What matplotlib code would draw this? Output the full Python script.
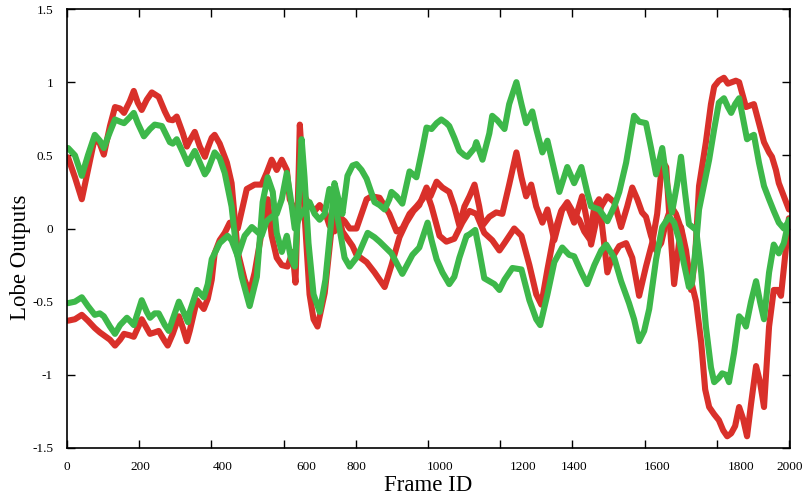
import matplotlib
matplotlib.use("Agg")
import matplotlib.pyplot as plt

plt.rcParams['font.family'] = ['Liberation Serif', 'DejaVu Serif']

# ---- data (frame, value) ----
r1_x = [3,22,41,58,77,91,102,119,133,147,158,174,185,196,207,221,235,254,271,282,293,304,321,332,340,354,368,382,390,401,409,423,443,456,473,492,506,520,534,548,556,567,581,595,611,625,633,642,645,653,658,672,683,694,714,733,750,763,777,791,802,830,852,866,880,899,921,940,960,976,996,1007,1024,1040,1059,1073,1087,1101,1115,1129,1142,1151,1170,1189,1206,1225,1245,1259,1272,1286,1300,1317,1331,1350,1372,1386,1405,1427,1441,1452,1466,1480,1497,1516,1535,1552,1566,1580,1593,1604,1618,1632,1646,1660,1674,1687,1701,1715,1731,1743,1757,1768,1779,1793,1806,1818,1829,1840,1851,1862,1873,1884,1895,1909,1920,1931,1945,1958,1970,1978,1989,2000]
r1_y = [0.485,0.35,0.20,0.40,0.62,0.58,0.505,0.70,0.83,0.82,0.79,0.87,0.94,0.86,0.81,0.88,0.93,0.90,0.80,0.745,0.74,0.765,0.65,0.56,0.60,0.66,0.56,0.49,0.55,0.62,0.64,0.58,0.45,0.31,-0.16,-0.35,-0.44,-0.30,-0.10,0.10,0.20,-0.05,-0.20,-0.25,-0.26,-0.16,-0.37,0.40,0.71,0.40,0.10,-0.45,-0.62,-0.67,-0.44,0.00,0.11,-0.02,-0.07,-0.12,-0.18,-0.23,-0.30,-0.35,-0.40,-0.25,-0.06,0.04,0.12,0.16,0.28,0.22,0.32,0.28,0.25,0.15,0.02,0.15,0.22,0.30,0.15,0.02,0.08,0.11,0.10,0.30,0.52,0.35,0.22,0.30,0.15,0.04,0.13,-0.08,0.13,0.16,0.04,0.22,0.05,-0.11,0.05,0.15,0.22,0.18,0.01,0.15,0.28,0.20,0.11,0.08,-0.05,-0.15,-0.10,0.05,0.15,0.10,0.00,-0.20,-0.38,-0.50,-0.78,-1.10,-1.22,-1.27,-1.31,-1.38,-1.42,-1.40,-1.35,-1.22,-1.30,-1.42,-1.20,-0.94,-1.05,-1.22,-0.67,-0.42,-0.42,-0.46,-0.20,0.07]

r2_x = [3,22,41,58,77,91,119,133,147,158,174,185,207,221,230,243,254,271,279,293,310,321,332,340,360,379,390,401,409,423,437,451,465,473,484,498,520,539,553,567,581,595,609,617,631,645,658,672,686,700,714,727,741,755,769,783,802,816,830,844,866,893,913,929,949,968,985,996,1010,1032,1051,1073,1095,1115,1134,1156,1178,1198,1212,1239,1259,1281,1300,1314,1331,1350,1369,1386,1405,1419,1433,1447,1461,1474,1488,1497,1510,1530,1549,1566,1585,1604,1621,1635,1649,1660,1671,1682,1693,1701,1715,1729,1740,1751,1770,1784,1793,1806,1820,1831,1842,1853,1862,1873,1881,1892,1903,1917,1931,1945,1953,1964,1972,1986,2000]
r2_y = [-0.63,-0.62,-0.59,-0.63,-0.68,-0.71,-0.76,-0.80,-0.76,-0.72,-0.73,-0.74,-0.62,-0.68,-0.72,-0.71,-0.70,-0.77,-0.80,-0.72,-0.60,-0.68,-0.77,-0.70,-0.49,-0.55,-0.48,-0.35,-0.17,-0.08,-0.03,0.04,0.02,0.00,0.12,0.27,0.30,0.30,0.38,0.47,0.40,0.47,0.40,0.20,0.12,0.20,0.22,0.16,0.12,0.16,0.12,0.02,-0.02,0.08,0.05,0.00,0.00,0.10,0.20,0.22,0.21,0.10,-0.02,0.00,0.10,0.15,0.20,0.25,0.15,-0.05,-0.09,-0.07,0.04,0.12,0.10,-0.03,-0.08,-0.15,-0.10,0.00,-0.05,-0.25,-0.45,-0.52,-0.28,-0.03,0.12,0.18,0.10,0.06,-0.02,-0.07,0.15,0.20,-0.10,-0.30,-0.20,-0.12,-0.10,-0.20,-0.46,-0.26,-0.10,0.10,0.46,0.42,0.00,-0.38,-0.15,0.01,-0.15,-0.42,-0.20,0.29,0.59,0.85,0.97,1.01,1.03,0.99,1.00,1.01,1.00,0.90,0.83,0.84,0.85,0.72,0.59,0.52,0.49,0.40,0.31,0.22,0.13]

g1_x = [3,22,41,58,77,91,102,119,133,147,158,174,185,196,213,230,243,263,271,285,293,304,321,335,340,354,368,382,390,401,409,423,437,456,470,484,506,526,542,556,570,581,595,609,620,631,642,650,658,669,683,700,716,730,741,752,763,777,791,802,816,830,844,852,866,880,893,899,913,929,949,968,985,996,1010,1024,1037,1051,1059,1073,1087,1101,1109,1129,1134,1151,1170,1178,1192,1212,1225,1245,1259,1272,1289,1300,1317,1331,1350,1364,1386,1405,1425,1441,1452,1474,1497,1516,1530,1549,1571,1585,1604,1618,1632,1649,1663,1676,1690,1701,1712,1723,1743,1757,1770,1784,1793,1806,1815,1826,1834,1848,1862,1873,1881,1895,1909,1920,1931,1945,1958,1972,1986,2000]
g1_y = [0.55,0.50,0.36,0.50,0.64,0.60,0.55,0.66,0.745,0.73,0.72,0.76,0.79,0.72,0.63,0.68,0.71,0.70,0.66,0.59,0.58,0.61,0.52,0.44,0.47,0.53,0.45,0.37,0.40,0.47,0.52,0.48,0.38,0.15,-0.16,-0.33,-0.53,-0.33,0.18,0.35,0.25,-0.03,-0.16,-0.05,-0.20,-0.26,0.20,0.61,0.35,-0.10,-0.45,-0.57,-0.35,0.00,0.31,0.20,0.10,0.36,0.43,0.44,0.40,0.34,0.24,0.18,0.16,0.13,0.20,0.25,0.22,0.17,0.39,0.35,0.55,0.69,0.68,0.72,0.745,0.72,0.70,0.62,0.53,0.50,0.49,0.55,0.59,0.47,0.65,0.77,0.74,0.68,0.85,1.00,0.85,0.72,0.80,0.68,0.52,0.60,0.40,0.25,0.42,0.31,0.42,0.25,0.15,0.13,0.05,0.15,0.25,0.45,0.77,0.73,0.72,0.55,0.37,0.55,0.30,0.11,0.30,0.49,0.25,0.03,-0.01,-0.30,-0.67,-0.95,-1.05,-1.02,-0.99,-1.00,-1.05,-0.85,-0.60,-0.63,-0.67,-0.50,-0.36,-0.50,-0.62,-0.30,-0.11,-0.17,-0.10,0.06]

g2_x = [3,22,41,58,77,91,102,119,133,147,166,174,185,207,221,230,243,254,271,282,293,310,321,335,340,360,379,390,401,409,423,445,456,473,492,512,526,539,553,567,581,595,609,620,631,645,658,672,686,700,714,727,741,755,769,783,805,833,852,866,899,929,957,976,999,1010,1024,1040,1059,1073,1087,1107,1115,1131,1142,1156,1170,1184,1198,1212,1234,1259,1281,1300,1311,1331,1350,1372,1391,1405,1425,1441,1461,1480,1494,1516,1535,1557,1571,1585,1599,1613,1632,1649,1668,1682,1696,1710,1723,1731,1743,1751,1765,1779,1793,1806,1820,1831,1840,1851,1862,1873,1884,1895,1903,1917,1931,1945,1958,1972,1986,2000]
g2_y = [-0.51,-0.50,-0.47,-0.53,-0.59,-0.58,-0.60,-0.67,-0.72,-0.66,-0.61,-0.63,-0.66,-0.49,-0.57,-0.61,-0.58,-0.58,-0.66,-0.70,-0.62,-0.50,-0.56,-0.64,-0.57,-0.42,-0.47,-0.38,-0.21,-0.17,-0.10,-0.05,-0.08,-0.19,-0.05,0.01,-0.02,-0.05,0.05,0.08,0.10,0.20,0.38,0.20,0.00,0.08,0.13,0.18,0.10,0.06,0.10,0.27,0.20,0.00,-0.20,-0.26,-0.19,-0.03,-0.06,-0.09,-0.17,-0.31,-0.18,-0.13,0.04,-0.08,-0.21,-0.30,-0.38,-0.33,-0.20,-0.05,-0.04,-0.01,-0.15,-0.34,-0.36,-0.38,-0.42,-0.35,-0.27,-0.28,-0.49,-0.62,-0.66,-0.45,-0.23,-0.13,-0.18,-0.19,-0.30,-0.38,-0.25,-0.15,-0.11,-0.20,-0.36,-0.51,-0.62,-0.77,-0.70,-0.55,-0.21,0.01,0.08,0.04,-0.08,-0.25,-0.40,-0.38,-0.10,0.13,0.30,0.47,0.68,0.86,0.89,0.83,0.79,0.85,0.89,0.75,0.61,0.63,0.64,0.45,0.29,0.20,0.12,0.04,0.00,0.05]

x_ticks = [0, 200, 400, 600, 800, 1000, 1200, 1400, 1600, 1800, 2000]
x_tick_labels = ['0', '200', '400', '600', '800', '1000', '1200', '1400', '1600', '1800', '2000']
x_label_pos = [0, 202, 432, 664, 802, 1035, 1264, 1405, 1635, 1867, 2003]
y_ticks = [-1.5, -1, -0.5, 0, 0.5, 1, 1.5]
y_tick_labels = ['-1.5', '-1', '-0.5', '0', '0.5', '1', '1.5']

RED = '#d9302a'
GREEN = '#3db84a'

fig = plt.figure(figsize=(8.05, 5.0), dpi=100)
ax = fig.add_axes([67/805, 52/500, 723/805, 439/500])

lw = 4.4
for xs, ys in ((r1_x, r1_y), (r2_x, r2_y)):
    ax.plot(xs, ys, color=RED, lw=lw, solid_joinstyle='round', solid_capstyle='round')
for xs, ys in ((g1_x, g1_y), (g2_x, g2_y)):
    ax.plot(xs, ys, color=GREEN, lw=lw, solid_joinstyle='round', solid_capstyle='round')

ax.set_xlim(0, 2000)
ax.set_ylim(-1.5, 1.5)

ax.xaxis.remove_overlapping_locs = False
# tick marks (uniform) without labels
ax.set_xticks(x_ticks)
ax.set_xticklabels([''] * len(x_ticks))
# labels at their drawn positions via minor ticks of zero length
ax.set_xticks(x_label_pos, minor=True)
ax.set_xticklabels(x_tick_labels, minor=True, fontsize=9.5)
ax.tick_params(axis='x', which='minor', length=0, pad=9, top=False)
ax.tick_params(axis='x', which='major', direction='in', length=6, width=1.0,
               top=True, bottom=True)

ax.set_yticks(y_ticks)
ax.set_yticklabels(y_tick_labels, fontsize=9.5)
ax.tick_params(axis='y', which='major', direction='in', length=6, width=1.0,
               left=True, right=True, pad=10)

for s in ax.spines.values():
    s.set_linewidth(1.2)
    s.set_color('black')

ax.set_xlabel('Frame ID', fontsize=16.5)
ax.xaxis.set_label_coords(0.5, -0.062)
ax.set_ylabel('Lobe Outputs', fontsize=16.5)
ax.yaxis.set_label_coords(-0.05, 0.435)

fig.savefig('out.png', dpi=100)
